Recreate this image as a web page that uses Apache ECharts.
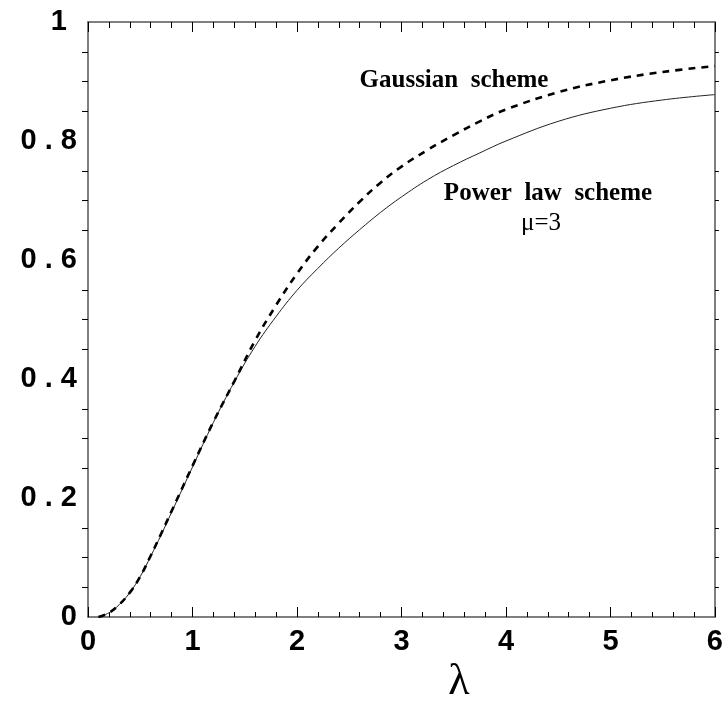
<!DOCTYPE html>
<html>
<head>
<meta charset="utf-8">
<script src="https://cdn.jsdelivr.net/npm/echarts@6/dist/echarts.min.js"></script>
<style>
html,body{margin:0;padding:0;background:#fff;}
#chart{width:726px;height:702px;}
</style>
</head>
<body>
<div id="chart"></div>
<script>
var lambdaValues = [0.1,0.2,0.3,0.4,0.5,0.6,0.7,0.8,0.9,1.0,1.2,1.4,1.6,1.8,2.0,2.2,2.4,2.6,2.8,3.0,3.25,3.5,3.75,4.0,4.5,5.0,5.5,6.0];
var powerLaw = [0,0.007,0.021,0.041,0.068,0.102,0.138,0.176,0.214,0.252,0.327,0.395,0.455,0.505,0.549,0.586,0.620,0.651,0.680,0.706,0.735,0.759,0.780,0.800,0.833,0.855,0.869,0.878];
var gaussian = [0,0.007,0.021,0.041,0.068,0.103,0.140,0.178,0.216,0.254,0.328,0.396,0.465,0.524,0.577,0.623,0.662,0.698,0.730,0.757,0.785,0.810,0.833,0.853,0.882,0.902,0.916,0.926];
var xTicks = [0,1,2,3,4,5,6];
var yTicks = [0,0.2,0.4,0.6,0.8,1];

function pairs(xs, ys){ return xs.map(function(x,i){ return [x, ys[i]]; }); }

var chart = echarts.init(document.getElementById('chart'));
var axisCommon = {
  axisLine:{show:true,onZero:false,lineStyle:{color:'#555',width:1.5}},
  splitLine:{show:false}
};
var option = {
  animation:false,
  backgroundColor:'#fff',
  grid:{left:88,top:22,right:10,bottom:85,containLabel:false},
  xAxis:[
    Object.assign({type:'value',position:'bottom',min:0,max:6,interval:1,
      axisTick:{show:true,inside:true,length:10,lineStyle:{color:'#000',width:1}},
      minorTick:{show:true,splitNumber:5,length:5,lineStyle:{color:'#000',width:1}},
      axisLabel:{margin:10,fontFamily:'Liberation Sans',fontWeight:'bold',fontSize:29,color:'#000',
        formatter:function(v){ return xTicks.indexOf(v)>=0 ? String(v) : ''; }}
    }, axisCommon),
    Object.assign({type:'value',position:'top',min:0,max:6,interval:1,
      axisTick:{show:true,inside:true,length:10,lineStyle:{color:'#000',width:1}},
      minorTick:{show:true,splitNumber:5,length:6,lineStyle:{color:'#000',width:1}},
      axisLabel:{show:false}
    }, axisCommon)
  ],
  yAxis:[
    Object.assign({type:'value',position:'left',min:0,max:1,interval:0.2,
      axisTick:{show:false},
      minorTick:{show:true,splitNumber:4,length:6,lineStyle:{color:'#000',width:1}},
      axisLabel:{margin:11,fontFamily:'Liberation Sans',fontWeight:'bold',fontSize:29,color:'#000',
        formatter:function(v){
          var t = yTicks.filter(function(k){return Math.abs(k-v)<1e-6;});
          if(!t.length) return '';
          var k = t[0];
          if(k===0) return '0';
          if(k===1) return '{one|1}';
          return k.toFixed(1).replace('.', ' . ');
        },
        rich:{one:{fontFamily:'Liberation Sans',fontWeight:'bold',fontSize:29,color:'#000',padding:[0,10,0,0]}}
      }
    }, axisCommon),
    Object.assign({type:'value',position:'right',min:0,max:1,interval:0.2,
      axisTick:{show:false},
      minorTick:{show:true,splitNumber:4,length:4,lineStyle:{color:'#000',width:1}},
      axisLabel:{show:false}
    }, axisCommon)
  ],
  series:[
    {name:'Power law scheme',type:'line',xAxisIndex:0,yAxisIndex:0,data:pairs(lambdaValues,powerLaw),
      smooth:0.4,showSymbol:false,lineStyle:{color:'#222',width:1,type:'solid'}},
    {name:'Gaussian scheme',type:'line',xAxisIndex:0,yAxisIndex:0,data:pairs(lambdaValues,gaussian),
      smooth:0.4,showSymbol:false,lineStyle:{color:'#000',width:2.6,type:[7,6]}}
  ],
  graphic:[
    {type:'text',x:454,y:81,style:{text:'Gaussian  scheme',font:'bold 25px "Liberation Serif"',fill:'#000',align:'center',verticalAlign:'middle'}},
    {type:'text',x:548,y:194,style:{text:'Power  law  scheme',font:'bold 25px "Liberation Serif"',fill:'#000',align:'center',verticalAlign:'middle'}},
    {type:'text',x:541,y:223,style:{text:'μ=3',font:'25px "Liberation Serif"',fill:'#000',align:'center',verticalAlign:'middle'}},
    {type:'text',x:459,y:682,style:{text:'λ',font:'44px "Liberation Serif"',fill:'#000',align:'center',verticalAlign:'middle'}}
  ]
};
chart.setOption(option);
</script>
</body>
</html>
